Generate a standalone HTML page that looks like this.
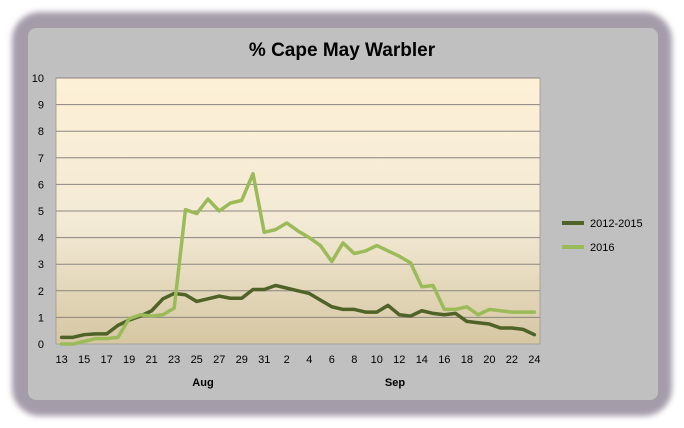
<!DOCTYPE html>
<html><head><meta charset="utf-8"><style>
body{margin:0;background:#fff;}
svg{display:block;font-family:"Liberation Sans",sans-serif;}
</style></head><body>
<svg width="684" height="428" viewBox="0 0 684 428">
<defs>
<linearGradient id="pg" x1="0" y1="0" x2="0" y2="1">
<stop offset="0" stop-color="#fdf0d6"/><stop offset="0.55" stop-color="#f3ead6"/><stop offset="1" stop-color="#d6c7a2"/>
</linearGradient>
<filter id="bl"><feGaussianBlur stdDeviation="3"/></filter>
</defs>
<rect x="12" y="12" width="660" height="404" rx="28" fill="#a59caa" filter="url(#bl)"/>
<rect x="28" y="28" width="630" height="372" rx="8" fill="#c0c0c0"/>
<text x="342" y="56" text-anchor="middle" font-size="19" font-weight="bold" fill="#000">% Cape May Warbler</text>
<rect x="56" y="78" width="484" height="266" fill="url(#pg)" stroke="#999" stroke-width="0.8"/>
<g id="grid"></g><g id="yt"></g><g id="xt"></g><g id="lines"></g>
<g>
<line x1="562" y1="223" x2="584" y2="223" stroke="#4f6228" stroke-width="4"/>
<text x="590" y="227" font-size="11">2012-2015</text>
<line x1="562" y1="247" x2="584" y2="247" stroke="#9bbb59" stroke-width="4"/>
<text x="590" y="251" font-size="11">2016</text>
</g>
<text x="203" y="386" text-anchor="middle" font-size="11" font-weight="bold">Aug</text>
<text x="395" y="386" text-anchor="middle" font-size="11" font-weight="bold">Sep</text>
</svg>
<script>
const days=[13,14,15,16,17,18,19,20,21,22,23,24,25,26,27,28,29,30,31,1,2,3,4,5,6,7,8,9,10,11,12,13,14,15,16,17,18,19,20,21,22,23,24];
const series2012=[0.25,0.25,0.35,0.38,0.38,0.7,0.9,1.05,1.25,1.7,1.9,1.85,1.6,1.7,1.8,1.72,1.72,2.05,2.05,2.2,2.1,2.0,1.9,1.65,1.4,1.3,1.3,1.2,1.2,1.45,1.1,1.05,1.25,1.15,1.1,1.15,0.85,0.8,0.75,0.6,0.6,0.55,0.35];
const series2016=[0,0,0.1,0.2,0.2,0.25,0.95,1.1,1.05,1.1,1.35,5.05,4.9,5.45,5.0,5.3,5.4,6.4,4.2,4.3,4.55,4.25,4.0,3.7,3.1,3.8,3.4,3.5,3.7,3.5,3.3,3.05,2.15,2.2,1.3,1.3,1.4,1.1,1.3,1.25,1.2,1.2,1.2];
const yTicks=[0,1,2,3,4,5,6,7,8,9,10];
const NS='http://www.w3.org/2000/svg';
const L=56,R=540,T=78,B=344;
const x=i=>L+(i+0.5)*(R-L)/days.length;
const y=v=>B-v*(B-T)/10;
function mk(t,a,p){const e=document.createElementNS(NS,t);for(const k in a)e.setAttribute(k,a[k]);p.appendChild(e);return e;}
const g=document.getElementById('grid'),yt=document.getElementById('yt'),xt=document.getElementById('xt'),ln=document.getElementById('lines');
yTicks.forEach(v=>{
 if(v>0){const l=mk('line',{x1:L,x2:R,y1:y(v),y2:y(v),stroke:'#8a8580','stroke-width':1},g);
 
 }
 const t=mk('text',{x:44,y:y(v)+4,'text-anchor':'end','font-size':11},yt);t.textContent=v;
 
 
});
days.forEach((d,i)=>{if(i%2)return;
 const t=mk('text',{x:x(i),y:363,'text-anchor':'middle','font-size':11},xt);t.textContent=d;
 
 
});
[[series2012,'#4f6228','line-2012-2015'],[series2016,'#9bbb59','line-2016']].forEach(([s,c,n])=>{
 const p=mk('polyline',{points:s.map((v,i)=>x(i)+','+y(v)).join(' '),fill:'none',stroke:c,'stroke-width':3.5,'stroke-linejoin':'round','stroke-linecap':'round'},ln);
 
 
});
</script>
</body></html>
